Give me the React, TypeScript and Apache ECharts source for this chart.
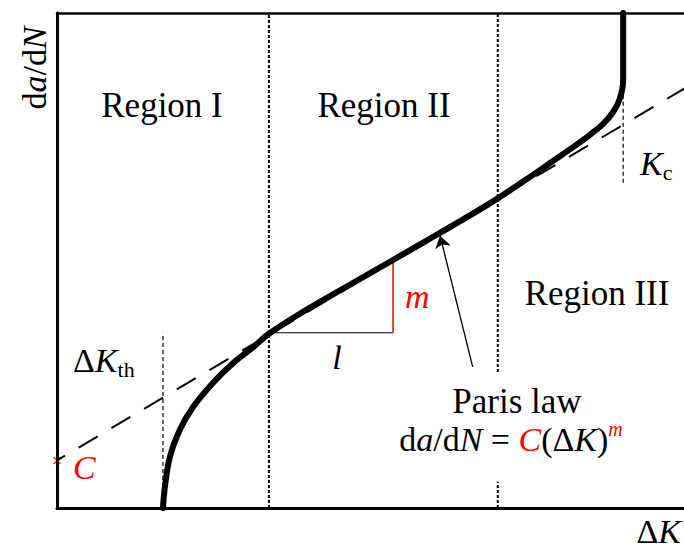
import React, { useEffect, useRef } from "react";
import * as echarts from "echarts";

// Schematic fatigue crack growth curve: da/dN versus ΔK (arbitrary log-log units 0–100)
const X_RANGE = [0, 100];
const Y_RANGE = [0, 100];

// Sigmoidal crack growth curve (Regions I–III)
const growthCurve: [number, number][] = [
  [16.9, 0], [17.2, 4.2], [18.0, 10.3], [19.6, 15.8], [21.7, 20.4], [24.9, 25.3],
  [28.1, 29.3], [31.3, 32.5], [33.8, 35.2], [38.8, 39.3], [46.7, 45.1], [53.6, 50.1],
  [61.1, 55.6], [69.1, 61.6], [75.0, 66.5], [79.1, 70.1], [82.3, 72.9], [85.0, 75.4],
  [87.1, 77.6], [88.7, 80.0], [89.8, 82.8], [90.3, 86.5], [90.3, 100],
];

// Paris law extrapolation (straight line), intercept C on the vertical axis
const parisLine: [number, number][] = [[-1.75, 8.3], [100, 84.7]];
const interceptC: [number, number][] = [[0, 9.6]];

// Region boundaries and thresholds (ΔK values)
const boundaryI_II = 33.8;
const boundaryII_III = 70.3;
const deltaKth = 16.9;
const Kc = 90.3;
const thresholdMarkTop = 35.4;
const kcMarkSpan = [65.7, 84.8];
const parisLabelGap = [5.3, 27.5];

// Slope triangle (l run, m rise)
const slopeRun: [number, number][] = [[33.8, 35.4], [53.6, 35.4]];
const slopeRise: [number, number][] = [[53.6, 35.4], [53.6, 50.1]];

// Pointer from the "Paris law" label to the linear part of the curve
const parisArrow: [number, number][] = [[66.3, 28.5], [61.1, 55.0]];

const SERIF = "'Liberation Serif', 'Times New Roman', Times, serif";

const vline = (x: number, y0: number, y1: number, type: any, width: number) => ({
  type: "line",
  data: [[x, y0], [x, y1]],
  symbol: "none",
  silent: true,
  clip: false,
  lineStyle: { color: "#000", width, type },
});

export default function App() {
  const ref = useRef<HTMLDivElement>(null);

  useEffect(() => {
    document.body.style.margin = "0";
    const chart = echarts.init(ref.current!, null, { renderer: "svg" });

    const n = { fontFamily: SERIF, fontSize: 34, fill: "#000", lineHeight: 40 };
    const it = { ...n, fontStyle: "italic" };
    const red = { ...it, fill: "#ff0000" };
    const plain = (text: string, x: number, y: number, align = "center", extra: any = {}) => ({
      type: "text", x, y,
      style: { text, fontFamily: SERIF, fontSize: 35, fill: "#000", align, verticalAlign: "middle", ...extra },
    });

    chart.setOption({
      animation: false,
      grid: { left: 57, right: 0, top: 13, bottom: 40, containLabel: false },
      xAxis: [
        {
          type: "value", min: X_RANGE[0], max: X_RANGE[1],
          axisLine: { show: true, onZero: false, lineStyle: { color: "#000", width: 3 } },
          axisTick: { show: false }, axisLabel: { show: false }, splitLine: { show: false },
        },
        {
          type: "value", position: "top", min: X_RANGE[0], max: X_RANGE[1],
          axisLine: { show: true, onZero: false, lineStyle: { color: "#000", width: 2.5 } },
          axisTick: { show: false }, axisLabel: { show: false }, splitLine: { show: false },
        },
      ],
      yAxis: {
        type: "value", min: Y_RANGE[0], max: Y_RANGE[1],
        axisLine: { show: true, onZero: false, lineStyle: { color: "#000", width: 3 } },
        axisTick: { show: false }, axisLabel: { show: false }, splitLine: { show: false },
      },
      series: [
        vline(boundaryI_II, Y_RANGE[0], Y_RANGE[1], [3, 2], 2),
        vline(boundaryII_III, parisLabelGap[1], Y_RANGE[1], [3, 2], 2),
        vline(boundaryII_III, Y_RANGE[0], parisLabelGap[0], [3, 2], 2),
        vline(deltaKth, Y_RANGE[0], thresholdMarkTop, [4, 3], 1.2),
        vline(Kc, kcMarkSpan[0], kcMarkSpan[1], [4, 3], 1.2),
        {
          type: "line", data: parisLine, symbol: "none", clip: false, silent: true,
          lineStyle: { color: "#000", width: 2, type: [22, 16] },
        },
        {
          type: "line", data: slopeRun, symbol: "none", silent: true,
          lineStyle: { color: "#000", width: 1.2 },
        },
        {
          type: "line", data: slopeRise, symbol: "none", silent: true,
          lineStyle: { color: "#ff0000", width: 1.5 },
        },
        {
          type: "line", data: growthCurve, symbol: "none", smooth: 0.35, clip: false,
          lineStyle: { color: "#000", width: 6, cap: "round", join: "round" },
          markLine: {
            silent: true,
            symbol: ["none", "arrow"],
            symbolSize: 12,
            label: { show: false },
            lineStyle: { color: "#000", width: 1.3, type: "solid" },
            data: [[{ coord: parisArrow[0] }, { coord: parisArrow[1] }]],
          },
        },
        {
          type: "scatter", data: interceptC, clip: false, silent: true,
          symbol: "path://M0,0L10,10M10,0L0,10", symbolSize: 7,
          itemStyle: { color: "none", borderColor: "#ff0000", borderWidth: 1.5 },
        },
      ],
      graphic: [
        {
          type: "text", x: 34, y: 68, rotation: Math.PI / 2,
          style: {
            text: "{n|d}{i|a}{n|/d}{i|N}", align: "center", verticalAlign: "middle",
            rich: { n, i: it },
          },
        },
        plain("Region I", 162, 105),
        plain("Region II", 384, 105),
        plain("Region III", 597, 293),
        plain("Paris law", 517, 401),
        {
          type: "text", x: 511, y: 439,
          style: {
            text: "{n|d}{i|a}{n|/d}{i|N}{n| = }{c|C}{n|(Δ}{i|K}{n|)}{s|m}",
            align: "center", verticalAlign: "middle",
            rich: { n, i: it, c: red, s: { ...red, fontSize: 20, lineHeight: 20, verticalAlign: "top" } },
          },
        },
        {
          type: "text", x: 73, y: 360,
          style: {
            text: "{n|Δ}{i|K}{b|th}", align: "left", verticalAlign: "middle",
            rich: { n, i: it, b: { ...n, fontSize: 22, lineHeight: 22, verticalAlign: "bottom" } },
          },
        },
        {
          type: "text", x: 640, y: 163,
          style: {
            text: "{i|K}{b|c}", align: "left", verticalAlign: "middle",
            rich: { i: it, b: { ...n, fontSize: 22, lineHeight: 22, verticalAlign: "bottom" } },
          },
        },
        plain("C", 73, 467, "left", { fill: "#ff0000", fontStyle: "italic", fontSize: 34 }),
        plain("m", 405, 296, "left", { fill: "#ff0000", fontStyle: "italic", fontSize: 34 }),
        plain("l", 337, 357, "center", { fontStyle: "italic", fontSize: 34 }),
        {
          type: "text", x: 681, y: 531,
          style: { text: "{n|Δ}{i|K}", align: "right", verticalAlign: "middle", rich: { n, i: it } },
        },
      ],
    });

    return () => chart.dispose();
  }, []);

  return (
    <div
      ref={ref}
      style={{ position: "fixed", left: 0, top: 0, width: 684, height: 548, background: "#fff" }}
    />
  );
}
